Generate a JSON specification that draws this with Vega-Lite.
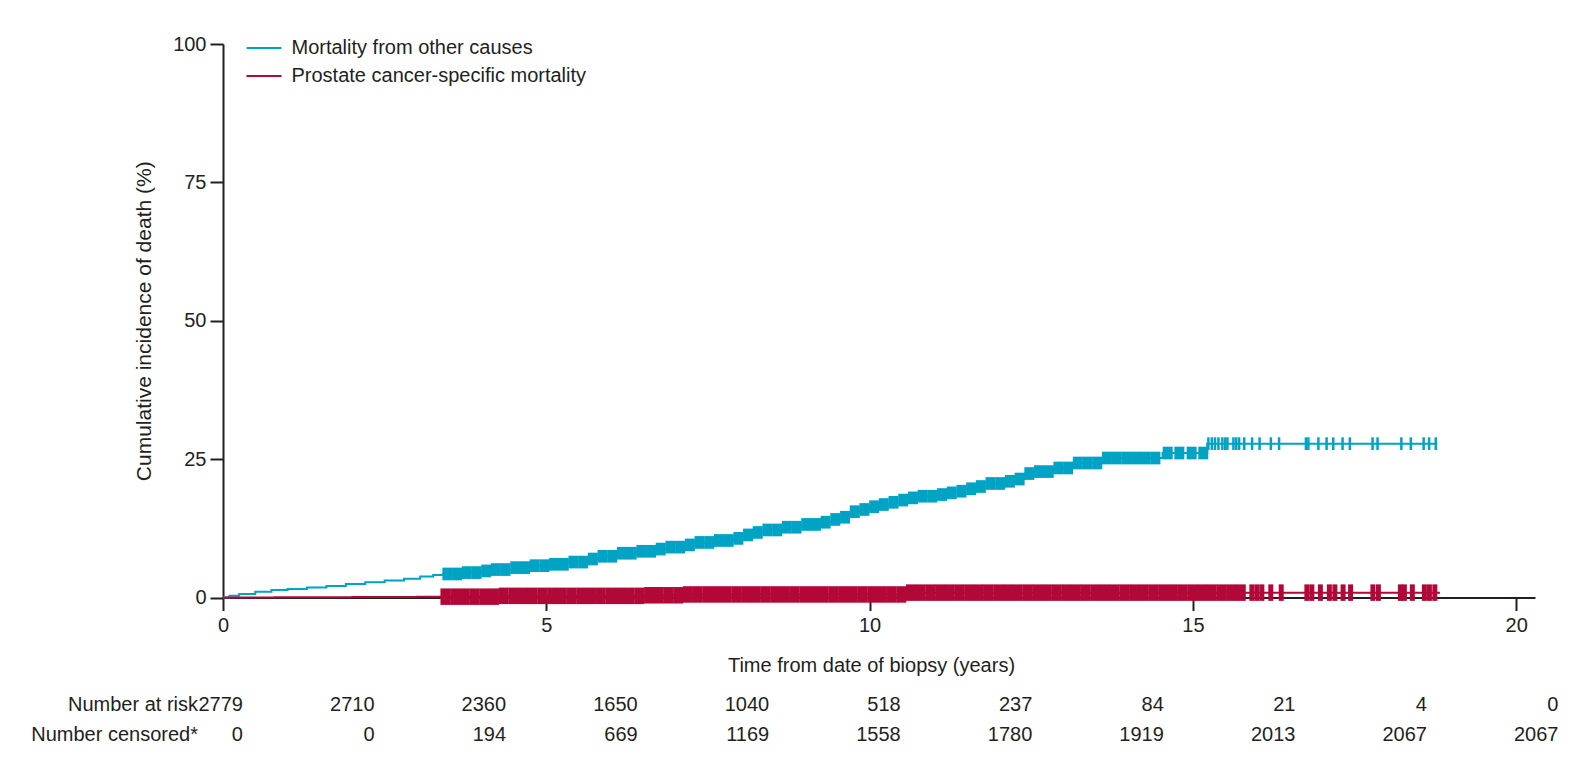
{
  "$schema": "https://vega.github.io/schema/vega-lite/v6.json",
  "background": "white",
  "padding": {"left": 30, "top": 34, "right": 0, "bottom": 0},
  "spacing": 13.5,
  "config": {
    "font": "Liberation Sans",
    "view": {"stroke": null},
    "axis": {
      "grid": false,
      "labelFont": "Liberation Sans",
      "titleFont": "Liberation Sans",
      "labelFontSize": 20,
      "titleFontSize": 20,
      "titleFontWeight": "normal",
      "labelColor": "#231f20",
      "titleColor": "#231f20",
      "domainColor": "#231f20",
      "tickColor": "#231f20",
      "domainWidth": 2,
      "tickWidth": 2,
      "tickSize": 13,
      "labelFlush": false
    }
  },
  "resolve": {"scale": {"x": "independent", "y": "independent"}},
  "vconcat": [
    {
      "width": 1312,
      "height": 553.5,
      "data": {
        "values": [
          {"series": "other", "years": 0, "pct": 0},
          {"series": "other", "years": 0.1, "pct": 0.3},
          {"series": "other", "years": 0.25, "pct": 0.65},
          {"series": "other", "years": 0.5, "pct": 1.05},
          {"series": "other", "years": 0.75, "pct": 1.35},
          {"series": "other", "years": 1.0, "pct": 1.55},
          {"series": "other", "years": 1.3, "pct": 1.8},
          {"series": "other", "years": 1.6, "pct": 2.1},
          {"series": "other", "years": 1.9, "pct": 2.45},
          {"series": "other", "years": 2.2, "pct": 2.75},
          {"series": "other", "years": 2.5, "pct": 3.05},
          {"series": "other", "years": 2.8, "pct": 3.4},
          {"series": "other", "years": 3.05, "pct": 3.8},
          {"series": "other", "years": 3.25, "pct": 4.05},
          {"series": "other", "years": 3.4, "pct": 4.25},
          {"series": "other", "years": 3.7, "pct": 4.5},
          {"series": "other", "years": 4.0, "pct": 4.8},
          {"series": "other", "years": 4.2, "pct": 5.05},
          {"series": "other", "years": 4.5, "pct": 5.4},
          {"series": "other", "years": 4.8, "pct": 5.75},
          {"series": "other", "years": 5.0, "pct": 6.0},
          {"series": "other", "years": 5.3, "pct": 6.4},
          {"series": "other", "years": 5.6, "pct": 6.95},
          {"series": "other", "years": 5.85, "pct": 7.45},
          {"series": "other", "years": 6.15, "pct": 8.0},
          {"series": "other", "years": 6.4, "pct": 8.35},
          {"series": "other", "years": 6.65, "pct": 8.75},
          {"series": "other", "years": 6.9, "pct": 9.1},
          {"series": "other", "years": 7.1, "pct": 9.5},
          {"series": "other", "years": 7.28, "pct": 9.95},
          {"series": "other", "years": 7.6, "pct": 10.3},
          {"series": "other", "years": 7.9, "pct": 10.7},
          {"series": "other", "years": 8.0, "pct": 11.3},
          {"series": "other", "years": 8.2, "pct": 11.75},
          {"series": "other", "years": 8.41, "pct": 12.2},
          {"series": "other", "years": 8.7, "pct": 12.7},
          {"series": "other", "years": 8.93, "pct": 13.2},
          {"series": "other", "years": 9.2, "pct": 13.6},
          {"series": "other", "years": 9.44, "pct": 14.1},
          {"series": "other", "years": 9.55, "pct": 14.5},
          {"series": "other", "years": 9.65, "pct": 15.0},
          {"series": "other", "years": 9.76, "pct": 15.5},
          {"series": "other", "years": 9.86, "pct": 15.9},
          {"series": "other", "years": 10.0, "pct": 16.4},
          {"series": "other", "years": 10.12, "pct": 16.8},
          {"series": "other", "years": 10.32, "pct": 17.2},
          {"series": "other", "years": 10.5, "pct": 17.6},
          {"series": "other", "years": 10.63, "pct": 18.0},
          {"series": "other", "years": 10.8, "pct": 18.3},
          {"series": "other", "years": 10.99, "pct": 18.6},
          {"series": "other", "years": 11.15, "pct": 18.9},
          {"series": "other", "years": 11.3, "pct": 19.2},
          {"series": "other", "years": 11.45, "pct": 19.65},
          {"series": "other", "years": 11.61, "pct": 20.05},
          {"series": "other", "years": 11.82, "pct": 20.6},
          {"series": "other", "years": 12.05, "pct": 21.0},
          {"series": "other", "years": 12.28, "pct": 21.4},
          {"series": "other", "years": 12.4, "pct": 22.4},
          {"series": "other", "years": 12.6, "pct": 22.75},
          {"series": "other", "years": 12.85, "pct": 23.4},
          {"series": "other", "years": 13.08, "pct": 24.3},
          {"series": "other", "years": 13.56, "pct": 25.2},
          {"series": "other", "years": 14.53, "pct": 26.1},
          {"series": "other", "years": 15.22, "pct": 27.8},
          {"series": "other", "years": 18.78, "pct": 27.8},

          {"series": "prostate", "years": 0, "pct": 0},
          {"series": "prostate", "years": 0.8, "pct": 0.05},
          {"series": "prostate", "years": 2.0, "pct": 0.1},
          {"series": "prostate", "years": 3.0, "pct": 0.15},
          {"series": "prostate", "years": 4.2, "pct": 0.3},
          {"series": "prostate", "years": 6.45, "pct": 0.4},
          {"series": "prostate", "years": 7.1, "pct": 0.55},
          {"series": "prostate", "years": 10.6, "pct": 0.88},
          {"series": "prostate", "years": 18.82, "pct": 0.88},

          {"series": "other", "years": 3.47, "censor": "dense"},
          {"series": "other", "years": 3.62, "censor": "dense"},
          {"series": "other", "years": 3.77, "censor": "dense"},
          {"series": "other", "years": 3.92, "censor": "dense"},
          {"series": "other", "years": 4.07, "censor": "dense"},
          {"series": "other", "years": 4.22, "censor": "dense"},
          {"series": "other", "years": 4.37, "censor": "dense"},
          {"series": "other", "years": 4.52, "censor": "dense"},
          {"series": "other", "years": 4.67, "censor": "dense"},
          {"series": "other", "years": 4.82, "censor": "dense"},
          {"series": "other", "years": 4.97, "censor": "dense"},
          {"series": "other", "years": 5.12, "censor": "dense"},
          {"series": "other", "years": 5.27, "censor": "dense"},
          {"series": "other", "years": 5.42, "censor": "dense"},
          {"series": "other", "years": 5.57, "censor": "dense"},
          {"series": "other", "years": 5.72, "censor": "dense"},
          {"series": "other", "years": 5.87, "censor": "dense"},
          {"series": "other", "years": 6.02, "censor": "dense"},
          {"series": "other", "years": 6.17, "censor": "dense"},
          {"series": "other", "years": 6.32, "censor": "dense"},
          {"series": "other", "years": 6.47, "censor": "dense"},
          {"series": "other", "years": 6.62, "censor": "dense"},
          {"series": "other", "years": 6.77, "censor": "dense"},
          {"series": "other", "years": 6.92, "censor": "dense"},
          {"series": "other", "years": 7.07, "censor": "dense"},
          {"series": "other", "years": 7.22, "censor": "dense"},
          {"series": "other", "years": 7.37, "censor": "dense"},
          {"series": "other", "years": 7.52, "censor": "dense"},
          {"series": "other", "years": 7.67, "censor": "dense"},
          {"series": "other", "years": 7.82, "censor": "dense"},
          {"series": "other", "years": 7.97, "censor": "dense"},
          {"series": "other", "years": 8.12, "censor": "dense"},
          {"series": "other", "years": 8.27, "censor": "dense"},
          {"series": "other", "years": 8.42, "censor": "dense"},
          {"series": "other", "years": 8.57, "censor": "dense"},
          {"series": "other", "years": 8.72, "censor": "dense"},
          {"series": "other", "years": 8.87, "censor": "dense"},
          {"series": "other", "years": 9.02, "censor": "dense"},
          {"series": "other", "years": 9.17, "censor": "dense"},
          {"series": "other", "years": 9.32, "censor": "dense"},
          {"series": "other", "years": 9.47, "censor": "dense"},
          {"series": "other", "years": 9.62, "censor": "dense"},
          {"series": "other", "years": 9.77, "censor": "dense"},
          {"series": "other", "years": 9.92, "censor": "dense"},
          {"series": "other", "years": 10.07, "censor": "dense"},
          {"series": "other", "years": 10.22, "censor": "dense"},
          {"series": "other", "years": 10.37, "censor": "dense"},
          {"series": "other", "years": 10.52, "censor": "dense"},
          {"series": "other", "years": 10.67, "censor": "dense"},
          {"series": "other", "years": 10.82, "censor": "dense"},
          {"series": "other", "years": 10.97, "censor": "dense"},
          {"series": "other", "years": 11.12, "censor": "dense"},
          {"series": "other", "years": 11.27, "censor": "dense"},
          {"series": "other", "years": 11.42, "censor": "dense"},
          {"series": "other", "years": 11.57, "censor": "dense"},
          {"series": "other", "years": 11.72, "censor": "dense"},
          {"series": "other", "years": 11.87, "censor": "dense"},
          {"series": "other", "years": 12.02, "censor": "dense"},
          {"series": "other", "years": 12.17, "censor": "dense"},
          {"series": "other", "years": 12.32, "censor": "dense"},
          {"series": "other", "years": 12.47, "censor": "dense"},
          {"series": "other", "years": 12.62, "censor": "dense"},
          {"series": "other", "years": 12.77, "censor": "dense"},
          {"series": "other", "years": 12.92, "censor": "dense"},
          {"series": "other", "years": 13.07, "censor": "dense"},
          {"series": "other", "years": 13.22, "censor": "dense"},
          {"series": "other", "years": 13.37, "censor": "dense"},
          {"series": "other", "years": 13.52, "censor": "dense"},
          {"series": "other", "years": 13.67, "censor": "dense"},
          {"series": "other", "years": 13.82, "censor": "dense"},
          {"series": "other", "years": 13.97, "censor": "dense"},
          {"series": "other", "years": 14.12, "censor": "dense"},
          {"series": "other", "years": 14.27, "censor": "dense"},
          {"series": "other", "years": 14.42, "censor": "dense"},
          {"series": "other", "years": 14.61, "censor": "dense"},
          {"series": "other", "years": 14.79, "censor": "dense"},
          {"series": "other", "years": 14.98, "censor": "dense"},
          {"series": "other", "years": 15.16, "censor": "dense"},

          {"series": "other", "years": 15.239, "censor": "sparse"},
          {"series": "other", "years": 15.292, "censor": "sparse"},
          {"series": "other", "years": 15.341, "censor": "sparse"},
          {"series": "other", "years": 15.394, "censor": "sparse"},
          {"series": "other", "years": 15.455, "censor": "sparse"},
          {"series": "other", "years": 15.499, "censor": "sparse"},
          {"series": "other", "years": 15.533, "censor": "sparse"},
          {"series": "other", "years": 15.626, "censor": "sparse"},
          {"series": "other", "years": 15.669, "censor": "sparse"},
          {"series": "other", "years": 15.714, "censor": "sparse"},
          {"series": "other", "years": 15.793, "censor": "sparse"},
          {"series": "other", "years": 15.915, "censor": "sparse"},
          {"series": "other", "years": 16.031, "censor": "sparse"},
          {"series": "other", "years": 16.205, "censor": "sparse"},
          {"series": "other", "years": 16.332, "censor": "sparse"},
          {"series": "other", "years": 16.747, "censor": "sparse"},
          {"series": "other", "years": 16.785, "censor": "sparse"},
          {"series": "other", "years": 16.94, "censor": "sparse"},
          {"series": "other", "years": 17.067, "censor": "sparse"},
          {"series": "other", "years": 17.17, "censor": "sparse"},
          {"series": "other", "years": 17.314, "censor": "sparse"},
          {"series": "other", "years": 17.427, "censor": "sparse"},
          {"series": "other", "years": 17.778, "censor": "sparse"},
          {"series": "other", "years": 17.855, "censor": "sparse"},
          {"series": "other", "years": 18.223, "censor": "sparse"},
          {"series": "other", "years": 18.37, "censor": "sparse"},
          {"series": "other", "years": 18.568, "censor": "sparse"},
          {"series": "other", "years": 18.652, "censor": "sparse"},
          {"series": "other", "years": 18.755, "censor": "sparse"},

          {"series": "prostate", "years": 3.44, "censor": "dense"},
          {"series": "prostate", "years": 3.59, "censor": "dense"},
          {"series": "prostate", "years": 3.74, "censor": "dense"},
          {"series": "prostate", "years": 3.89, "censor": "dense"},
          {"series": "prostate", "years": 4.04, "censor": "dense"},
          {"series": "prostate", "years": 4.19, "censor": "dense"},
          {"series": "prostate", "years": 4.34, "censor": "dense"},
          {"series": "prostate", "years": 4.49, "censor": "dense"},
          {"series": "prostate", "years": 4.64, "censor": "dense"},
          {"series": "prostate", "years": 4.79, "censor": "dense"},
          {"series": "prostate", "years": 4.94, "censor": "dense"},
          {"series": "prostate", "years": 5.09, "censor": "dense"},
          {"series": "prostate", "years": 5.24, "censor": "dense"},
          {"series": "prostate", "years": 5.39, "censor": "dense"},
          {"series": "prostate", "years": 5.54, "censor": "dense"},
          {"series": "prostate", "years": 5.69, "censor": "dense"},
          {"series": "prostate", "years": 5.84, "censor": "dense"},
          {"series": "prostate", "years": 5.99, "censor": "dense"},
          {"series": "prostate", "years": 6.14, "censor": "dense"},
          {"series": "prostate", "years": 6.29, "censor": "dense"},
          {"series": "prostate", "years": 6.44, "censor": "dense"},
          {"series": "prostate", "years": 6.59, "censor": "dense"},
          {"series": "prostate", "years": 6.74, "censor": "dense"},
          {"series": "prostate", "years": 6.89, "censor": "dense"},
          {"series": "prostate", "years": 7.04, "censor": "dense"},
          {"series": "prostate", "years": 7.19, "censor": "dense"},
          {"series": "prostate", "years": 7.34, "censor": "dense"},
          {"series": "prostate", "years": 7.49, "censor": "dense"},
          {"series": "prostate", "years": 7.64, "censor": "dense"},
          {"series": "prostate", "years": 7.79, "censor": "dense"},
          {"series": "prostate", "years": 7.94, "censor": "dense"},
          {"series": "prostate", "years": 8.09, "censor": "dense"},
          {"series": "prostate", "years": 8.24, "censor": "dense"},
          {"series": "prostate", "years": 8.39, "censor": "dense"},
          {"series": "prostate", "years": 8.54, "censor": "dense"},
          {"series": "prostate", "years": 8.69, "censor": "dense"},
          {"series": "prostate", "years": 8.84, "censor": "dense"},
          {"series": "prostate", "years": 8.99, "censor": "dense"},
          {"series": "prostate", "years": 9.14, "censor": "dense"},
          {"series": "prostate", "years": 9.29, "censor": "dense"},
          {"series": "prostate", "years": 9.44, "censor": "dense"},
          {"series": "prostate", "years": 9.59, "censor": "dense"},
          {"series": "prostate", "years": 9.74, "censor": "dense"},
          {"series": "prostate", "years": 9.89, "censor": "dense"},
          {"series": "prostate", "years": 10.04, "censor": "dense"},
          {"series": "prostate", "years": 10.19, "censor": "dense"},
          {"series": "prostate", "years": 10.34, "censor": "dense"},
          {"series": "prostate", "years": 10.49, "censor": "dense"},
          {"series": "prostate", "years": 10.64, "censor": "dense"},
          {"series": "prostate", "years": 10.79, "censor": "dense"},
          {"series": "prostate", "years": 10.94, "censor": "dense"},
          {"series": "prostate", "years": 11.09, "censor": "dense"},
          {"series": "prostate", "years": 11.24, "censor": "dense"},
          {"series": "prostate", "years": 11.39, "censor": "dense"},
          {"series": "prostate", "years": 11.54, "censor": "dense"},
          {"series": "prostate", "years": 11.69, "censor": "dense"},
          {"series": "prostate", "years": 11.84, "censor": "dense"},
          {"series": "prostate", "years": 11.99, "censor": "dense"},
          {"series": "prostate", "years": 12.14, "censor": "dense"},
          {"series": "prostate", "years": 12.29, "censor": "dense"},
          {"series": "prostate", "years": 12.44, "censor": "dense"},
          {"series": "prostate", "years": 12.59, "censor": "dense"},
          {"series": "prostate", "years": 12.74, "censor": "dense"},
          {"series": "prostate", "years": 12.89, "censor": "dense"},
          {"series": "prostate", "years": 13.04, "censor": "dense"},
          {"series": "prostate", "years": 13.19, "censor": "dense"},
          {"series": "prostate", "years": 13.34, "censor": "dense"},
          {"series": "prostate", "years": 13.49, "censor": "dense"},
          {"series": "prostate", "years": 13.64, "censor": "dense"},
          {"series": "prostate", "years": 13.79, "censor": "dense"},
          {"series": "prostate", "years": 13.94, "censor": "dense"},
          {"series": "prostate", "years": 14.09, "censor": "dense"},
          {"series": "prostate", "years": 14.24, "censor": "dense"},
          {"series": "prostate", "years": 14.39, "censor": "dense"},
          {"series": "prostate", "years": 14.54, "censor": "dense"},
          {"series": "prostate", "years": 14.69, "censor": "dense"},
          {"series": "prostate", "years": 14.84, "censor": "dense"},
          {"series": "prostate", "years": 14.99, "censor": "dense"},
          {"series": "prostate", "years": 15.14, "censor": "dense"},
          {"series": "prostate", "years": 15.29, "censor": "dense"},
          {"series": "prostate", "years": 15.44, "censor": "dense"},
          {"series": "prostate", "years": 15.59, "censor": "dense"},
          {"series": "prostate", "years": 15.74, "censor": "dense"},

          {"series": "prostate", "years": 15.911, "censor": "sparse"},
          {"series": "prostate", "years": 15.989, "censor": "sparse"},
          {"series": "prostate", "years": 16.066, "censor": "sparse"},
          {"series": "prostate", "years": 16.204, "censor": "sparse"},
          {"series": "prostate", "years": 16.365, "censor": "sparse"},
          {"series": "prostate", "years": 16.762, "censor": "sparse"},
          {"series": "prostate", "years": 16.839, "censor": "sparse"},
          {"series": "prostate", "years": 16.971, "censor": "sparse"},
          {"series": "prostate", "years": 17.11, "censor": "sparse"},
          {"series": "prostate", "years": 17.195, "censor": "sparse"},
          {"series": "prostate", "years": 17.322, "censor": "sparse"},
          {"series": "prostate", "years": 17.438, "censor": "sparse"},
          {"series": "prostate", "years": 17.783, "censor": "sparse"},
          {"series": "prostate", "years": 17.868, "censor": "sparse"},
          {"series": "prostate", "years": 18.208, "censor": "sparse"},
          {"series": "prostate", "years": 18.27, "censor": "sparse"},
          {"series": "prostate", "years": 18.393, "censor": "sparse"},
          {"series": "prostate", "years": 18.579, "censor": "sparse"},
          {"series": "prostate", "years": 18.657, "censor": "sparse"},
          {"series": "prostate", "years": 18.741, "censor": "sparse"}
        ]
      },
      "transform": [
        {
          "lookup": "series",
          "from": {
            "data": {
              "values": [
                {"series": "other", "cause": "Mortality from other causes"},
                {"series": "prostate", "cause": "Prostate cancer-specific mortality"}
              ]
            },
            "key": "series",
            "fields": ["cause"]
          }
        },
        {
          "window": [{"op": "max", "field": "pct", "as": "level"}],
          "groupby": ["series"],
          "sort": [{"field": "years", "order": "ascending"}],
          "frame": [null, 0]
        }
      ],
      "encoding": {
        "x": {
          "field": "years",
          "type": "quantitative",
          "scale": {"domain": [0, 20.29], "nice": false, "zero": false},
          "axis": {
            "values": [0, 5, 10, 15, 20],
            "title": "Time from date of biopsy (years)",
            "labelPadding": 5,
            "titlePadding": 20,
            "titleX": 648
          }
        },
        "y": {
          "field": "level",
          "type": "quantitative",
          "scale": {"domain": [0, 100], "nice": false},
          "axis": {
            "values": [0, 25, 50, 75, 100],
            "title": "Cumulative incidence of death (%)",
            "titleFontSize": 21,
            "labelPadding": 4,
            "titlePadding": 18
          }
        }
      },
      "layer": [
        {
          "transform": [{"filter": "isValid(datum.pct)"}],
          "mark": {"type": "line", "interpolate": "step-after", "strokeWidth": 2},
          "encoding": {
            "color": {
              "field": "cause",
              "type": "nominal",
              "scale": {
                "domain": ["Mortality from other causes", "Prostate cancer-specific mortality"],
                "range": ["#00a3c4", "#b20838"]
              },
              "legend": {
                "title": null,
                "orient": "none",
                "legendX": 22.5,
                "legendY": -10,
                "padding": 0,
                "symbolType": "stroke",
                "symbolSize": 1225,
                "symbolStrokeWidth": 2,
                "clipHeight": 28,
                "rowPadding": 0,
                "labelOffset": 9,
                "labelLimit": 0,
                "labelFont": "Liberation Sans",
                "labelFontSize": 20,
                "labelColor": "#231f20"
              }
            }
          }
        },
        {
          "transform": [{"filter": "datum.series == 'other' && datum.censor == 'dense'"}],
          "mark": {"type": "tick", "orient": "vertical", "color": "#00a3c4", "opacity": 1, "size": 12.7, "thickness": 10}
        },
        {
          "transform": [{"filter": "datum.series == 'other' && datum.censor == 'sparse'"}],
          "mark": {"type": "tick", "orient": "vertical", "color": "#00a3c4", "opacity": 1, "size": 12.7, "thickness": 2.5}
        },
        {
          "transform": [{"filter": "datum.series == 'prostate' && datum.censor == 'dense'"}],
          "mark": {"type": "tick", "orient": "vertical", "color": "#b20838", "opacity": 1, "size": 16.5, "thickness": 10}
        },
        {
          "transform": [{"filter": "datum.series == 'prostate' && datum.censor == 'sparse'"}],
          "mark": {"type": "tick", "orient": "vertical", "color": "#b20838", "opacity": 1, "size": 16.5, "thickness": 5}
        }
      ]
    },
    {
      "width": 1312,
      "height": 60,
      "data": {
        "values": [
          {"row": "Number at risk", "year": 0, "count": 2779},
          {"row": "Number at risk", "year": 2, "count": 2710},
          {"row": "Number at risk", "year": 4, "count": 2360},
          {"row": "Number at risk", "year": 6, "count": 1650},
          {"row": "Number at risk", "year": 8, "count": 1040},
          {"row": "Number at risk", "year": 10, "count": 518},
          {"row": "Number at risk", "year": 12, "count": 237},
          {"row": "Number at risk", "year": 14, "count": 84},
          {"row": "Number at risk", "year": 16, "count": 21},
          {"row": "Number at risk", "year": 18, "count": 4},
          {"row": "Number at risk", "year": 20, "count": 0},
          {"row": "Number censored*", "year": 0, "count": 0},
          {"row": "Number censored*", "year": 2, "count": 0},
          {"row": "Number censored*", "year": 4, "count": 194},
          {"row": "Number censored*", "year": 6, "count": 669},
          {"row": "Number censored*", "year": 8, "count": 1169},
          {"row": "Number censored*", "year": 10, "count": 1558},
          {"row": "Number censored*", "year": 12, "count": 1780},
          {"row": "Number censored*", "year": 14, "count": 1919},
          {"row": "Number censored*", "year": 16, "count": 2013},
          {"row": "Number censored*", "year": 18, "count": 2067},
          {"row": "Number censored*", "year": 20, "count": 2067}
        ]
      },
      "mark": {"type": "text", "align": "right", "baseline": "middle", "fontSize": 20, "font": "Liberation Sans", "color": "#231f20"},
      "encoding": {
        "x": {
          "field": "year",
          "type": "quantitative",
          "scale": {"domain": [-0.304, 19.643], "nice": false, "zero": false},
          "axis": null
        },
        "y": {
          "field": "row",
          "type": "nominal",
          "sort": ["Number at risk", "Number censored*"],
          "axis": {"title": null, "domain": false, "ticks": false, "labelPadding": 25.5}
        },
        "text": {"field": "count", "type": "quantitative", "format": "d"}
      }
    }
  ]
}
